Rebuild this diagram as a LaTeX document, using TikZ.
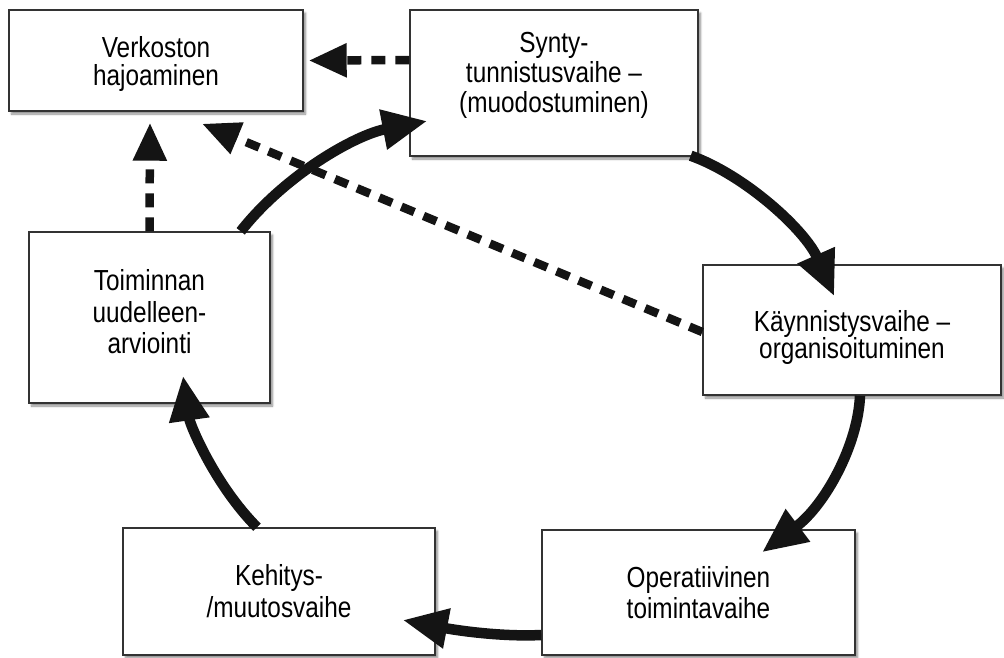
\documentclass[tikz,border=0pt]{standalone}
\usepackage{fontspec}
\setmainfont[FakeStretch=0.84]{Liberation Sans}
\usetikzlibrary{arrows.meta,shadows.blur}
\tikzset{
  box/.style={draw=black!80, line width=1.4pt, fill=white, rectangle, inner sep=0pt, align=center,
    font=\fontsize{29}{31}\selectfont,
    blur shadow={shadow xshift=2.5pt, shadow yshift=-3pt, shadow blur steps=6, shadow opacity=45}},
  cyc/.style={line width=10.5pt, draw=black!92, -{Triangle[length=45pt,width=38pt]}},
  dsh/.style={line width=8.5pt, draw=black!92, dash pattern=on 14pt off 10pt, -{Triangle[length=38pt,width=32pt]}}
}
\begin{document}
\begin{tikzpicture}[x=1pt,y=-1pt]
\useasboundingbox (0,0) rectangle (1004,657);
\node[box, minimum width=294pt, minimum height=101pt, font=\fontsize{29}{28}\selectfont] (verk) at (156,60.5) {\rule{0pt}{29pt}Verkoston\\hajoaminen};
\node[box, minimum width=288pt, minimum height=146pt, font=\fontsize{29}{30}\selectfont] (synty) at (554,83) {Synty-\\tunnistusvaihe –\\(muodostuminen)\rule[-22pt]{0pt}{0pt}};
\node[box, minimum width=298pt, minimum height=130pt, font=\fontsize{29}{28}\selectfont] (kay) at (852,330) {\rule{0pt}{36pt}Käynnistysvaihe –\\organisoituminen};
\node[box, minimum width=241pt, minimum height=171pt, font=\fontsize{29}{31.5}\selectfont] (toim) at (149.5,317.5) {Toiminnan\\uudelleen-\\arviointi\rule[-12pt]{0pt}{0pt}};
\node[box, minimum width=312pt, minimum height=127pt, font=\fontsize{29}{32}\selectfont] (keh) at (279,591.5) {Kehitys-\\/muutosvaihe};
\node[box, minimum width=313pt, minimum height=125pt] (oper) at (698.5,592.5) {Operatiivinen\\toimintavaihe};

% cycle arrows
\draw[cyc] ([shift={(-8,-1)}]synty.south east) .. controls (745,175) and (805,230) .. ([shift={(132,32)}]kay.north west);
\draw[cyc] ([shift={(8,0)}]kay.south) .. controls (858,445) and (825,505) .. ([shift={(63.5,23)}]oper.north);
\draw[cyc] ([shift={(0,42.5)}]oper.west) .. controls (500,637) and (455,630) .. ([shift={(-33,28.5)}]keh.east);
\draw[cyc] ([shift={(-22,0)}]keh.north) .. controls (215,485) and (190,425) .. ([shift={(33.5,-28)}]toim.south);
\draw[cyc] ([shift={(-30,0)}]toim.north east) .. controls (285,175) and (355,135) .. ([shift={(18,38)}]synty.west);

% dashed arrows
\draw[dsh] ([shift={(0,-23)}]synty.west) -- ([shift={(5,0)}]verk.east);
\draw[dsh] ([shift={(0,2)}]kay.west) -- ([shift={(46,12)}]verk.south);
\draw[dsh] (toim.north) -- ([shift={(-6,11)}]verk.south);
\end{tikzpicture}
\end{document}
